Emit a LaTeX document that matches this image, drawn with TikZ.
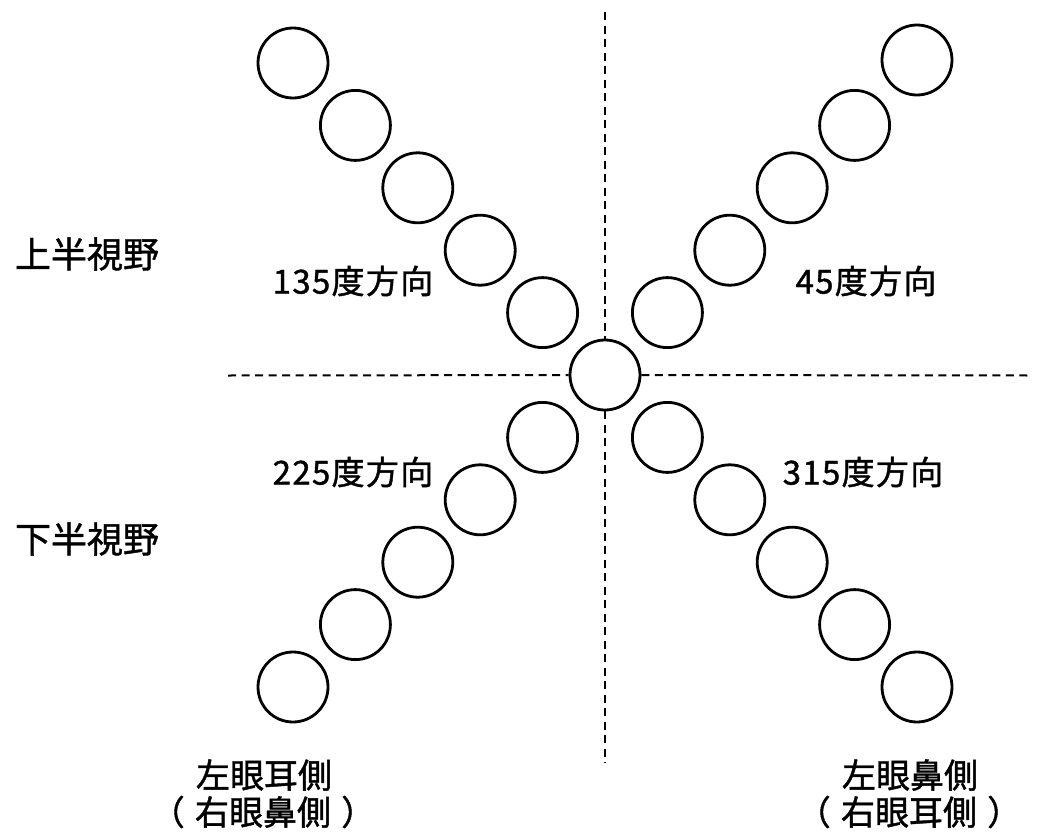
\documentclass[tikz,border=0pt]{standalone}
\usepackage{fontspec}
\setmainfont[FakeBold=1.2]{Noto Sans CJK JP}
\newfontfamily\spacedfont[LetterSpace=4,FakeBold=1.2]{Noto Sans CJK JP}
\begin{document}
\begin{tikzpicture}[x=1pt,y=-1pt,
  ring/.style={circle,draw=black,line width=2.8pt,minimum size=70pt,inner sep=0pt},
  guide/.style={line width=2pt,dash pattern=on 8pt off 5.5pt},
  bigLabel/.style={inner sep=0pt,font=\fontsize{36}{40}\selectfont},
  dirLabel/.style={inner sep=0pt,font=\spacedfont\fontsize{33}{38}\selectfont},
  sideLabel/.style={inner sep=0pt,align=center,font=\fontsize{34}{38}\selectfont}]
\useasboundingbox (0,0) rectangle (1037,838);
% centre ring
\node[ring] (c0) at (605,375) {};
% diagonal rings
\foreach \k in {1,...,5}{
  \node[ring] (ul\k) at ({605-62.4*\k},{375-62.4*\k}) {};
  \node[ring] (ll\k) at ({605-62.4*\k},{375+62.4*\k}) {};
  \node[ring] (lr\k) at ({605+62.4*\k},{375+62.4*\k}) {};
}
\foreach \k in {1,...,4}{
  \node[ring] (ur\k) at ({605+62.4*\k},{375-62.4*\k}) {};
}
\node[ring] (ur5) at (917,60) {};
% guide lines
\coordinate (top) at (605,12);
\coordinate (bot) at (605,763);
\coordinate (lft) at (228,375.5);
\coordinate (rgt) at (1030,375.5);
\draw[guide] (top) -- (c0);
\draw[guide] (c0) -- (bot);
\draw[guide] (lft) -- (c0);
\draw[guide] (c0) -- (rgt);
% labels
\node[bigLabel] (upper) at (87,254) {上半視野};
\node[bigLabel] (lower) at (87,539) {下半視野};
\node[dirLabel] (d135) at (353,281) {135度方向};
\node[dirLabel] (d45) at (866,281) {45度方向};
\node[dirLabel] (d225) at (353,472) {225度方向};
\node[dirLabel] (d315) at (863,472) {315度方向};
\node[sideLabel] (le1) at (264,775) {左眼耳側};
\node[sideLabel] (le2) at (263,812) {（\hspace{0.3em}右眼鼻側\hspace{0.3em}）};
\node[sideLabel] (re1) at (910,775) {左眼鼻側};
\node[sideLabel] (re2) at (909,812) {（\hspace{0.3em}右眼耳側\hspace{0.3em}）};
\end{tikzpicture}
\end{document}
